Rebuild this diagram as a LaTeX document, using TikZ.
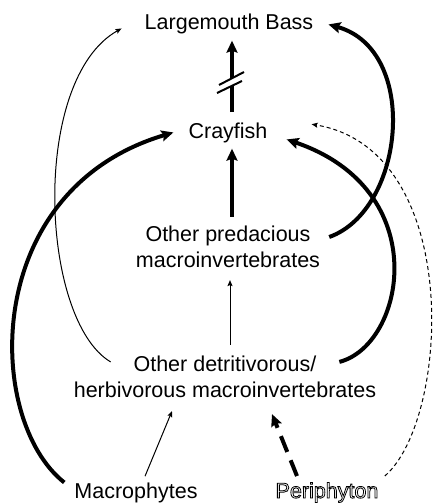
\documentclass[tikz,border=0pt]{standalone}
\usepackage{fontspec}
\setmainfont{Liberation Sans}
\usetikzlibrary{arrows.meta}
\begin{document}
\begin{tikzpicture}[x=1pt, y=-1pt,
		every node/.style={font=\fontsize{21.5}{26}\selectfont, inner sep=6pt},
		bigarr/.style={line width=4pt, -{Stealth[length=12pt, width=11pt, inset=2pt]}},
		smallarr/.style={line width=1pt, -{Stealth[length=6pt, width=5pt, inset=1pt]}}]
				\useasboundingbox (0,0) rectangle (435,503);
				
				% 食物网节点
				\node[anchor=base] (bass) at (229,30) {Largemouth Bass};
				\node[anchor=base] (cray) at (228,138) {Crayfish};
				\node[align=center] (pred) at (228,247) {Other predacious\\macroinvertebrates};
				\node[align=center] (detr) at (225,377) {Other detritivorous/\\herbivorous macroinvertebrates};
				\node[anchor=base] (macro) at (136,498) {Macrophytes};
				\node[anchor=base, line width=0.8pt] (peri) at (327,498) {\special{pdf:literal direct 1 Tr}Periphyton\special{pdf:literal direct 0 Tr}};
				
				% 竖直箭头
				\draw[bigarr, shorten <=4pt] ([xshift=4pt]cray.north) -- ([xshift=4pt]cray.north |- bass.south);
				\draw[bigarr, line width=4.5pt, shorten <=3pt] ([xshift=4pt]pred.north) -- ([xshift=4pt]pred.north |- cray.south);
				\draw[smallarr, shorten <=5pt, shorten >=6pt] ([xshift=5pt]detr.north) -- ([xshift=5pt]detr.north |- pred.south);
				
				% 断开符号
				\coordinate (brk) at (232,83);
				\fill[white] ([shift={(-13,2)}]brk) -- ([shift={(12,-11)}]brk) -- ([shift={(10,-2)}]brk) -- ([shift={(-15,10)}]brk) -- cycle;
				\draw[line width=2pt] ([shift={(-13,2)}]brk) -- ([shift={(12,-11)}]brk);
				\draw[line width=2pt] ([shift={(-15,10)}]brk) -- ([shift={(10,-2)}]brk);
				
				% 两侧弧线
				\draw[bigarr] ([shift={(3pt,10pt)}]pred.east) .. controls (405,210) and (420,50) .. ([xshift=9pt]bass.east);
				\draw[bigarr] ([shift={(-43pt,-12pt)}]detr.north east) .. controls (405,345) and (435,190) .. ([shift={(13pt,-7pt)}]cray.east);
				\draw[bigarr] ([shift={(-4pt,10pt)}]macro.west) .. controls (-15,420) and (-20,190) .. ([xshift=-9pt]cray.west);
				\draw[smallarr] ([shift={(43pt,-12pt)}]detr.north west) .. controls (40,320) and (30,80) .. ([shift={(-17pt,-4pt)}]bass.west);
				\draw[smallarr, dash pattern=on 4pt off 3pt] (peri.north east) .. controls (450,420) and (464,150) .. ([shift={(38pt,-8pt)}]cray.north east);
				
				% 底部箭头
				\draw[smallarr] ([xshift=9pt]macro.north) -- ([shift={(-53pt,-7pt)}]detr.south);
				\draw[bigarr, dash pattern=on 17pt off 9pt] ([xshift=-30pt]peri.north) -- ([shift={(47pt,-10pt)}]detr.south);
			\end{tikzpicture}
\end{document}
